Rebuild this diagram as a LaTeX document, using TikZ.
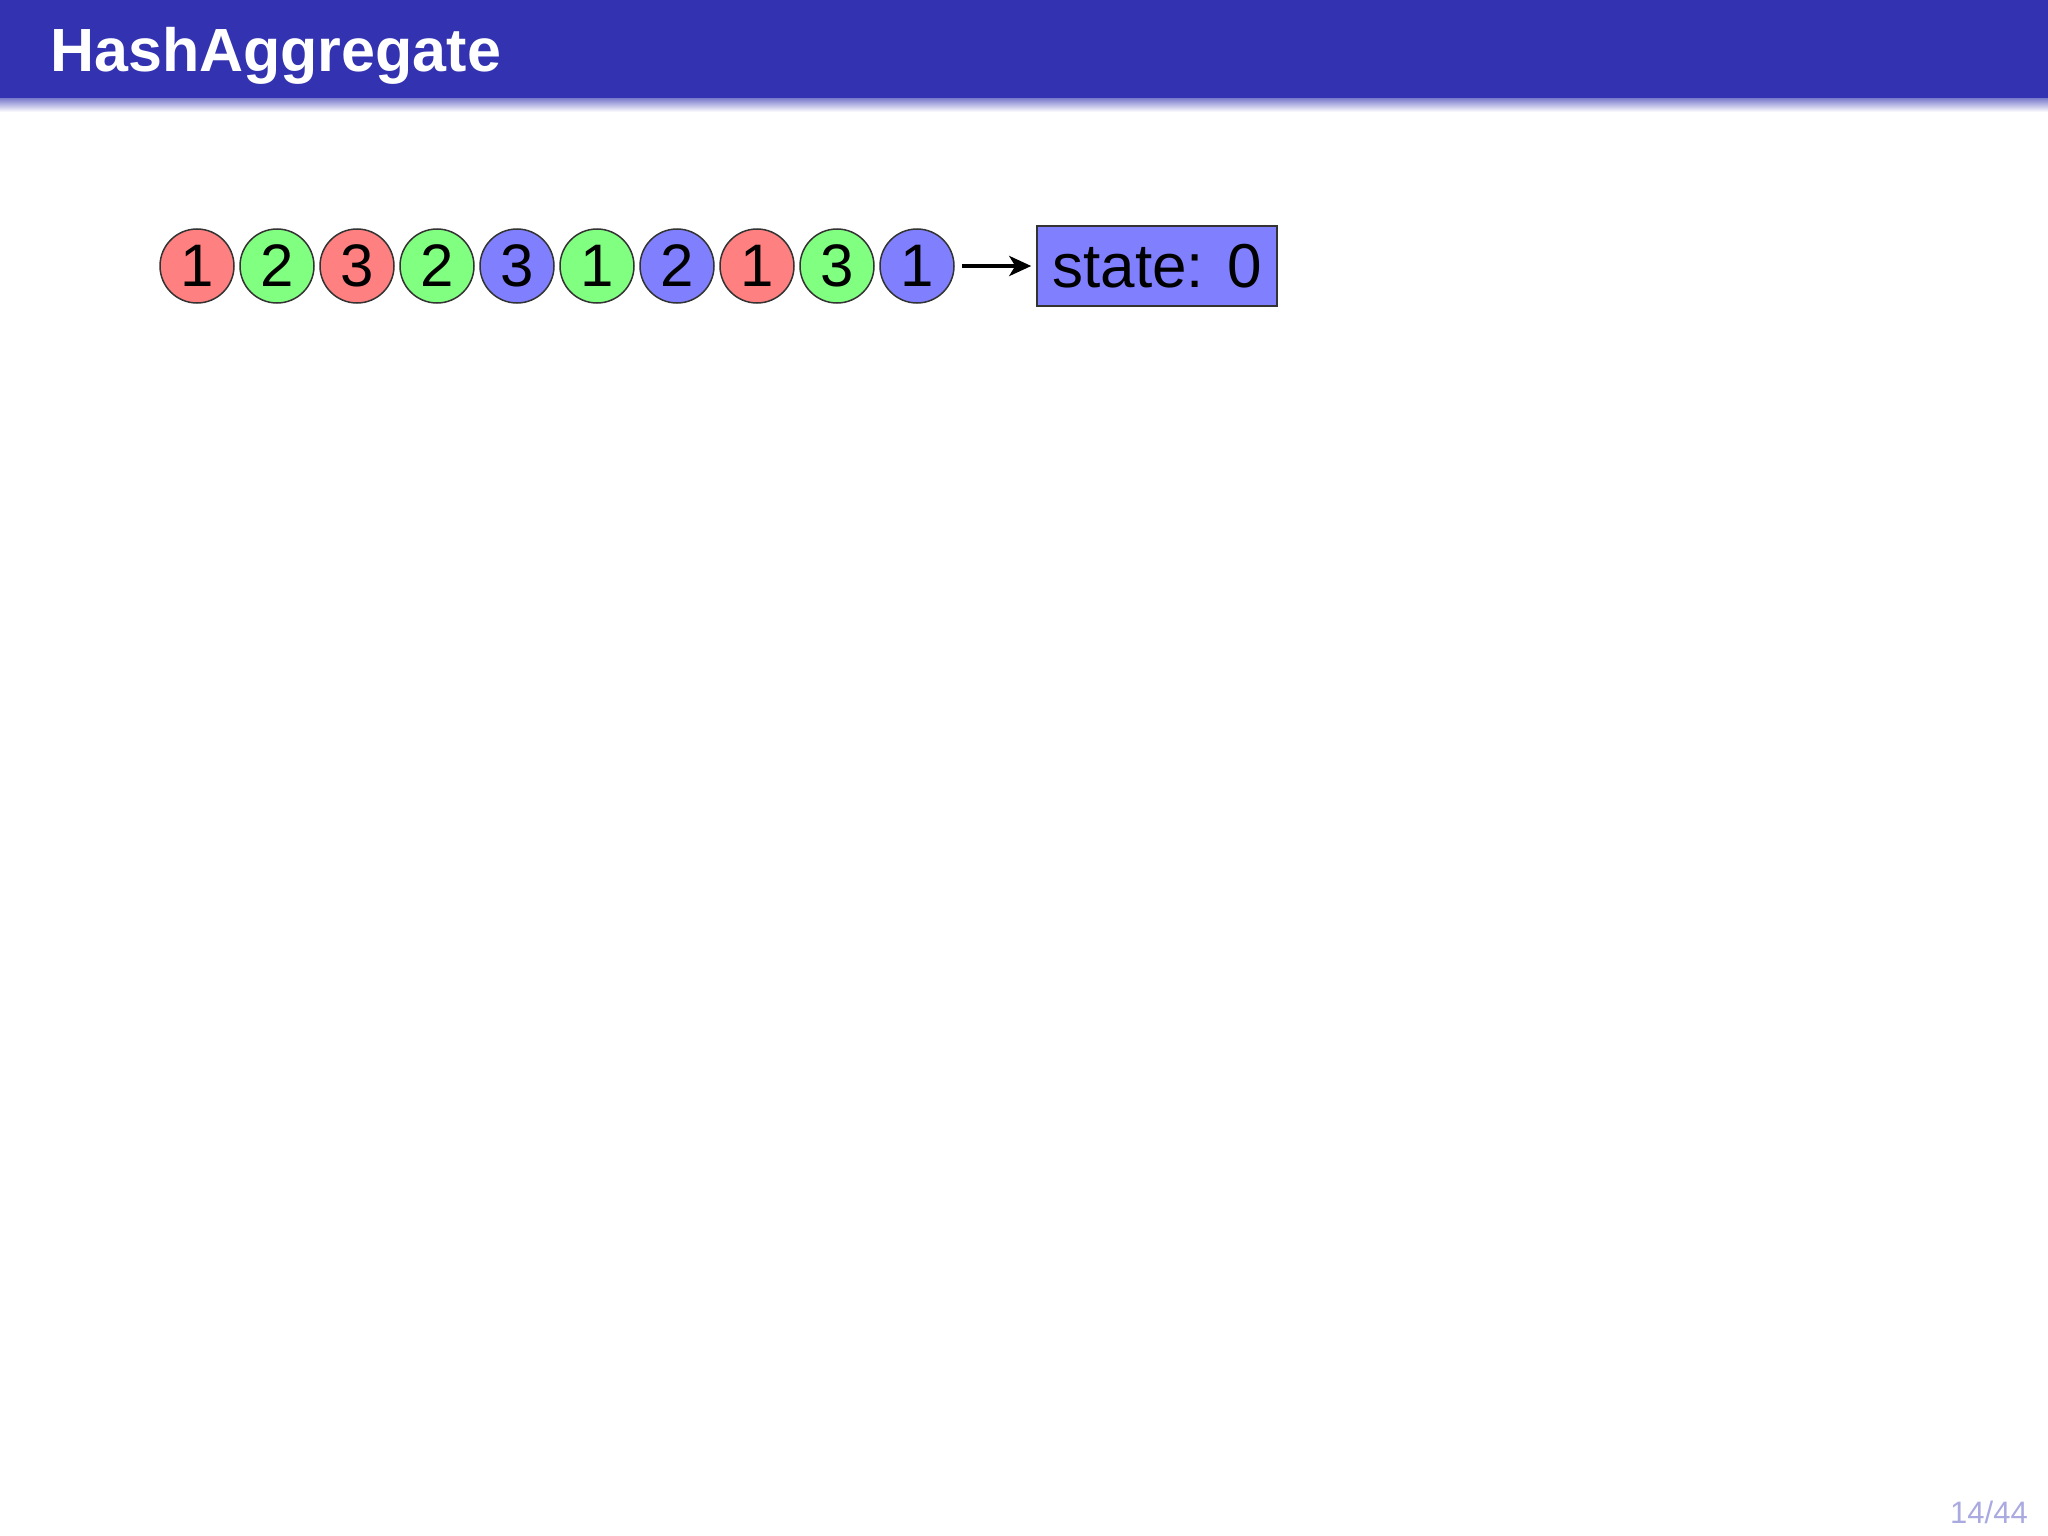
\documentclass[tikz,border=0pt]{standalone}
\usepackage{fontspec}
\setmainfont{Liberation Sans}
\usetikzlibrary{arrows.meta}
\definecolor{hdr}{RGB}{51,51,178}
\definecolor{cred}{RGB}{255,128,128}
\definecolor{cgreen}{RGB}{128,255,128}
\definecolor{cblue}{RGB}{128,128,255}
\definecolor{pgnum}{RGB}{170,170,225}
\tikzset{
  ball/.style={circle, draw=black!80, line width=1.5pt, minimum size=74pt, inner sep=0pt, font=\fontsize{60}{60}\selectfont},
  statebox/.style={rectangle, draw=black!80, line width=1.5pt, fill=cblue, minimum width=240pt, minimum height=80pt, inner sep=0pt, font=\fontsize{62}{62}\selectfont},
}
\begin{document}
\begin{tikzpicture}[x=1pt,y=-1pt]
\useasboundingbox (0,0) rectangle (2048,1536);
\fill[white] (0,0) rectangle (2048,1536);
\shade[top color=hdr!70, bottom color=white] (0,97) rectangle (2048,112);
\fill[hdr] (0,0) rectangle (2048,98);
\node[anchor=base west, inner sep=0pt, text=white, font=\bfseries\fontsize{61}{61}\selectfont] (title) at (50,72) {HashAggregate};
\foreach \i/\d/\c in {0/1/cred,1/2/cgreen,2/3/cred,3/2/cgreen,4/3/cblue,5/1/cgreen,6/2/cblue,7/1/cred,8/3/cgreen,9/1/cblue}{
  \node[ball, fill=\c] (c\i) at ({197+80*\i},266) {\d};
}
\node[statebox] (box) at (1157,266) {state: 0};
\draw[line width=4pt, -{Stealth[length=22pt,width=20pt,inset=6pt]}, shorten <=7pt, shorten >=5pt] (c9) -- (box);
\node[anchor=base east, inner sep=0pt, text=pgnum, font=\fontsize{31}{31}\selectfont] (pg) at (2028,1523) {14/44};
\end{tikzpicture}
\end{document}
